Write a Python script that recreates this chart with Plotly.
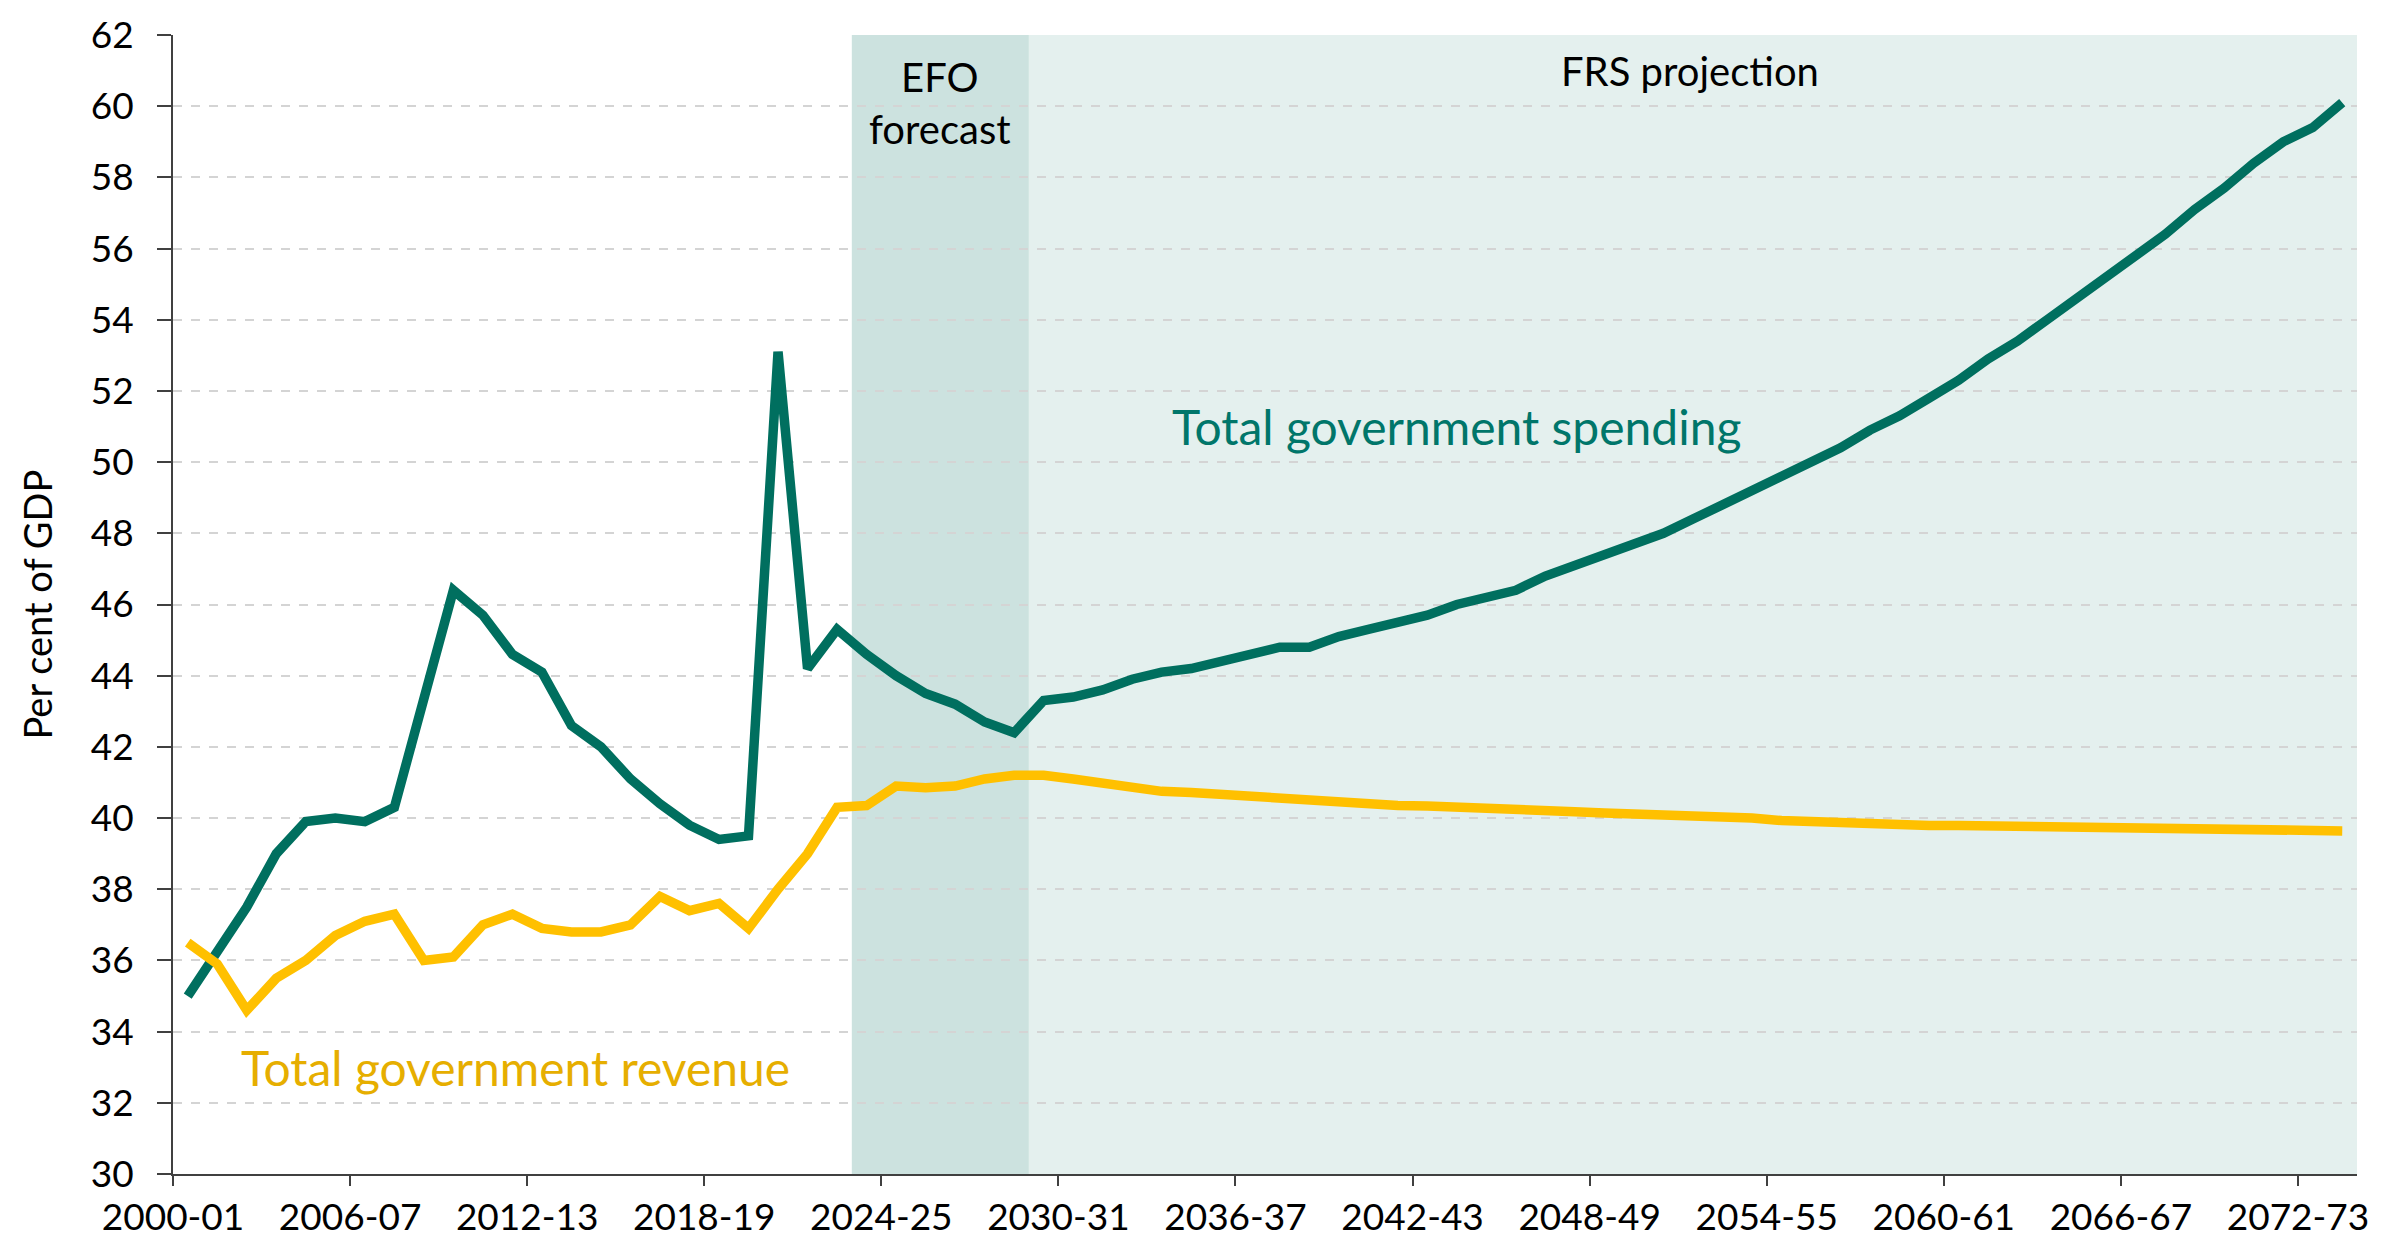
import plotly.graph_objects as go

# ---- data -------------------------------------------------------------
years = [f"{y}-{(y + 1) % 100:02d}" for y in range(2000, 2074)]

spending = [
    35.0, 36.3, 37.5, 39.0, 39.9, 40.0, 39.9, 40.3, 43.3, 46.4,
    45.7, 44.6, 44.1, 42.6, 42.0, 41.1, 40.4, 39.8, 39.4, 39.5,
    53.1, 44.2, 45.3, 44.6, 44.0, 43.5, 43.2, 42.7, 42.4, 43.3,
    43.4, 43.6, 43.9, 44.1, 44.2, 44.4, 44.6, 44.8, 44.8, 45.1,
    45.3, 45.5, 45.7, 46.0, 46.2, 46.4, 46.8, 47.1, 47.4, 47.7,
    48.0, 48.4, 48.8, 49.2, 49.6, 50.0, 50.4, 50.9, 51.3, 51.8,
    52.3, 52.9, 53.4, 54.0, 54.6, 55.2, 55.8, 56.4, 57.1, 57.7,
    58.4, 59.0, 59.4, 60.1,
]

revenue = [
    36.5, 35.9, 34.6, 35.5, 36.0, 36.7, 37.1, 37.3, 36.0, 36.1,
    37.0, 37.3, 36.9, 36.8, 36.8, 37.0, 37.8, 37.4, 37.6, 36.9,
    38.0, 39.0, 40.3, 40.35, 40.9, 40.85, 40.9, 41.1, 41.2, 41.2,
    41.1, 41.0, 40.85, 40.75, 40.72, 40.66, 40.59, 40.53, 40.49, 40.45,
    40.4, 40.35, 40.34, 40.32, 40.29, 40.26, 40.22, 40.18, 40.14, 40.12,
    40.1, 40.08, 40.06, 40.0, 39.93, 39.89, 39.85, 39.83, 39.81, 39.79,
    39.79, 39.78, 39.78, 39.77, 39.76, 39.74, 39.73, 39.72, 39.71, 39.70,
    39.72, 39.69, 39.67, 39.64,
]

tick_labels = years[::6]                 # 2000-01, 2006-07, ... 2072-73
efo_period = ("2023-24", "2028-29")      # EFO forecast
frs_period = ("2029-30", "2073-74")      # FRS projection
y_ticks = list(range(30, 63, 2))

# ---- styling ----------------------------------------------------------
FONT = "Lato"
GREEN = "#006F5F"
GOLD = "#FFC000"
GREEN_TXT = "#00766A"
GOLD_TXT = "#E6AE00"
AXIS = "#404040"

x = list(range(len(years)))
idx = {c: i for i, c in enumerate(years)}

fig = go.Figure()

fig.add_trace(go.Scatter(
    x=x, y=spending, mode="lines", name="Total government spending",
    line=dict(color=GREEN, width=9.5), hoverinfo="skip",
))
fig.add_trace(go.Scatter(
    x=x, y=revenue, mode="lines", name="Total government revenue",
    line=dict(color=GOLD, width=9.5), hoverinfo="skip",
))

# shaded forecast / projection periods (category boundaries)
for (a, b), col in ((efo_period, "#CCE2DF"), (frs_period, "#E4F0EE")):
    fig.add_shape(type="rect", xref="x", yref="y domain",
                  x0=idx[a] - 0.5, x1=idx[b] + 0.5, y0=0, y1=1,
                  fillcolor=col, line=dict(width=0), layer="below")

# text labels
fig.add_annotation(x=(idx[efo_period[0]] + idx[efo_period[1]]) / 2, y=60.1,
                   text="EFO<br>forecast", showarrow=False,
                   font=dict(family=FONT, size=40, color="#000000"),
                   xanchor="center", yanchor="middle")
fig.add_annotation(x=50.9, y=61.0, text="FRS projection", showarrow=False,
                   font=dict(family=FONT, size=40, color="#000000"),
                   xanchor="center", yanchor="middle")
fig.add_annotation(x=43.0, y=51.0, text="Total government spending",
                   showarrow=False,
                   font=dict(family=FONT, size=48, color=GREEN_TXT),
                   xanchor="center", yanchor="middle")
fig.add_annotation(x=11.1, y=33.0, text="Total government revenue",
                   showarrow=False,
                   font=dict(family=FONT, size=48, color=GOLD_TXT),
                   xanchor="center", yanchor="middle")
fig.add_annotation(xref="paper", yref="paper", x=0, y=0.5, xshift=-137,
                   text="Per cent of GDP", textangle=-90, showarrow=False,
                   font=dict(family=FONT, size=38, color="#000000"),
                   xanchor="center", yanchor="middle")

fig.update_xaxes(
    range=[-0.5, len(years) - 0.5],
    tickmode="array",
    tickvals=[idx[c] - 0.5 for c in tick_labels],
    ticktext=tick_labels,
    ticks="outside", ticklen=10, tickwidth=2, tickcolor=AXIS,
    showline=True, linecolor=AXIS, linewidth=2,
    showgrid=False, zeroline=False,
    tickfont=dict(family=FONT, size=37, color="#000000"),
    ticklabelstandoff=0,
    ticklabeloverflow="allow",
    automargin=False,
)
fig.update_yaxes(
    range=[30, 62],
    tickmode="array", tickvals=y_ticks,
    ticks="outside", ticklen=14, tickwidth=2, tickcolor=AXIS,
    showline=True, linecolor=AXIS, linewidth=2,
    showgrid=True, gridcolor="#D4D4D4", gridwidth=1.5, griddash="dash",
    zeroline=False,
    tickfont=dict(family=FONT, size=37, color="#000000"),
    ticklabelstandoff=16,
    ticklabeloverflow="allow",
    automargin=False,
)

# page body has an 8px margin, so the figure is sized/margined to land the
# plot area where the reference has it in the 2400x1247 window
fig.update_layout(
    width=2384, height=1231,
    margin=dict(l=165, r=35, t=27, b=65),
    paper_bgcolor="white", plot_bgcolor="white",
    showlegend=False,
    font=dict(family=FONT),
)

fig.write_html("out.html")
